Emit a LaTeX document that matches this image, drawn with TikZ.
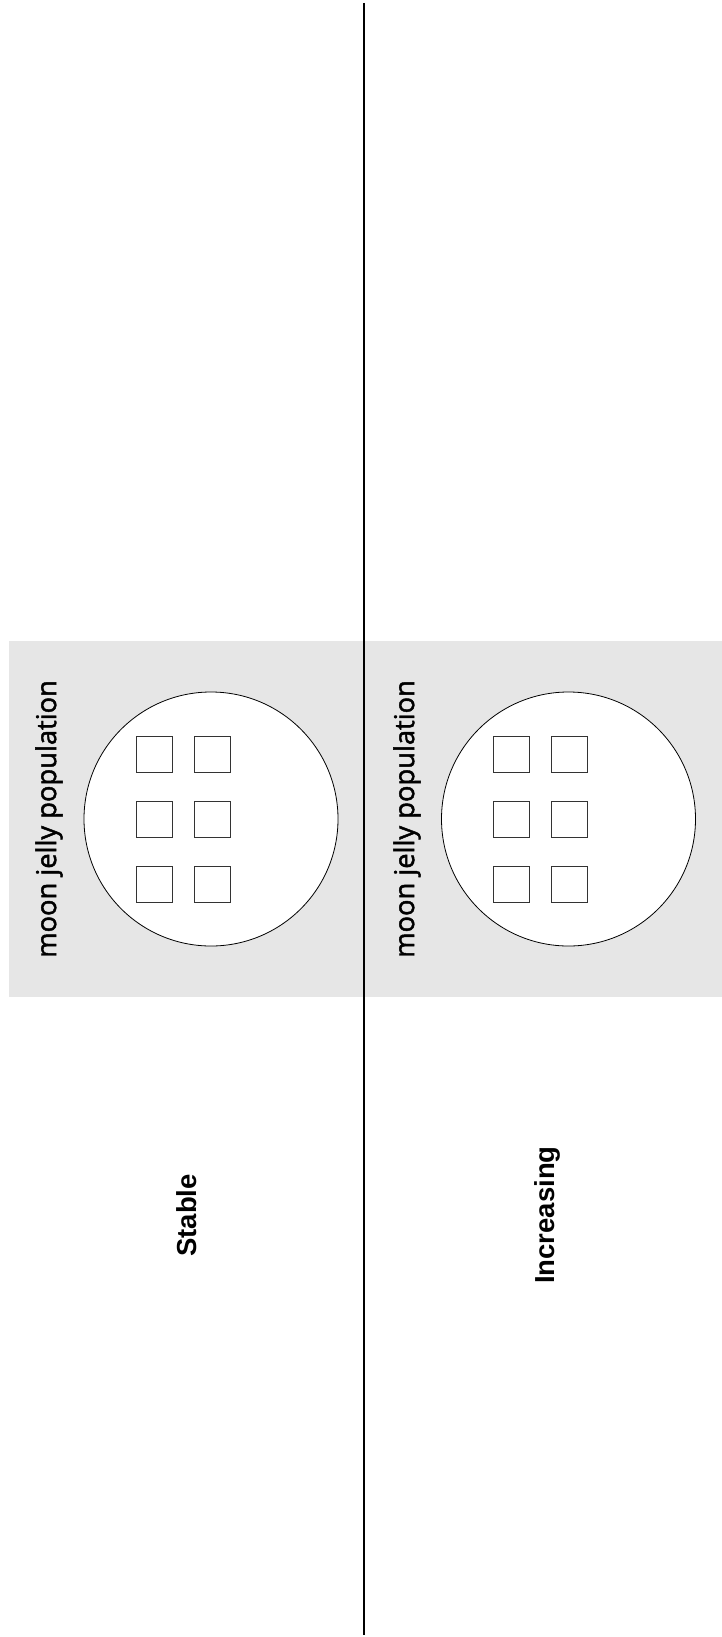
\documentclass[tikz,border=0pt]{standalone}
\usepackage{fontspec}
\newfontfamily\labfont[FakeBold=1.6]{Open Sans}
\newfontfamily\headfont{Liberation Sans}
\definecolor{panelgrey}{HTML}{E6E6E6}
\definecolor{boxedge}{HTML}{333333}
\begin{document}
\begin{tikzpicture}[x=1pt,y=-1pt,
  divider/.style={line width=2pt,black},
  panel/.style={fill=panelgrey,draw=none},
  popcircle/.style={circle,draw=black,fill=white,line width=0.8pt,minimum size=254pt,inner sep=0pt},
  slot/.style={rectangle,draw=boxedge,fill=white,line width=0.9pt,minimum size=36pt,inner sep=0pt},
  poplabel/.style={rotate=90,font=\labfont\fontsize{27.3}{30}\selectfont,inner sep=0pt},
  headlabel/.style={rotate=90,font=\headfont\bfseries\fontsize{27.5}{30}\selectfont,inner sep=0pt}]
\useasboundingbox (0,0) rectangle (722,1637);
\fill[white] (0,0) rectangle (722,1637);
% grey band
\node[panel,minimum width=713pt,minimum height=356pt,inner sep=0pt,anchor=north west] (band) at (9,641) {};
% divider
\coordinate (ltop) at (364,3);
\coordinate (lbot) at (364,1635);
\draw[divider] (ltop) -- (lbot);
% circles
\node[popcircle] (c1) at (211,819) {};
\node[popcircle] (c2) at (568.5,819) {};
% slots
\foreach \i/\yy in {1/754,2/819,3/884.5}{
  \node[slot] (a\i) at (154.5,\yy) {};
  \node[slot] (b\i) at (212.5,\yy) {};
  \node[slot] (d\i) at (511.5,\yy) {};
  \node[slot] (e\i) at (569.5,\yy) {};
}
% labels
\node[poplabel] (l1) at (49,819) {moon jelly population};
\node[poplabel] (l2) at (407,819) {moon jelly population};
\node[headlabel] (h1) at (187,1215.5) {Stable};
\node[headlabel] (h2) at (547,1215) {Increasing};
\end{tikzpicture}
\end{document}
